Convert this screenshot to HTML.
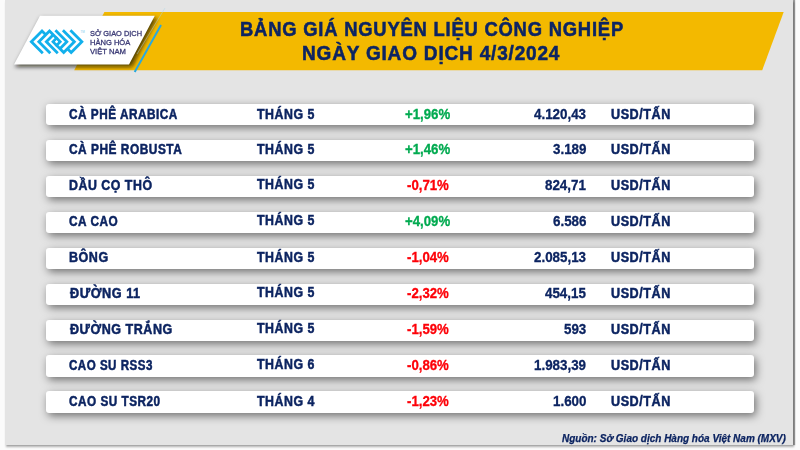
<!DOCTYPE html>
<html><head><meta charset="utf-8">
<style>
html,body{margin:0;padding:0;}
body{width:800px;height:450px;position:relative;overflow:hidden;background:#fbfbfb;font-family:"Liberation Sans",sans-serif;}
#bg{position:absolute;left:5px;top:0;width:788px;height:445px;background:#e4e4e4;box-shadow:2px 0 1px rgba(0,0,0,0.38),1px 2px 2px rgba(0,0,0,0.3);overflow:hidden;}
.t{position:absolute;white-space:nowrap;line-height:1;font-weight:bold;transform-origin:0 0;}
.row{position:absolute;left:46px;width:708px;height:21px;background:#fff;border-radius:3px;box-shadow:2px 3px 8px rgba(0,0,0,0.5);}
.nm{color:#0d2461;font-size:13.5px;}
.mo{color:#0d2461;font-size:13.5px;}
.pc{font-size:13px;}
.g{color:#12a54e;}
.r{color:#ea1c24;}
.pr{color:#0d2461;font-size:13.5px;}
.un{color:#0d2461;font-size:13.5px;}
#title{color:#13265c;font-size:19px;}
#yellow{position:absolute;left:0;top:0;}
#foot{color:#0d2461;font-size:10px;font-style:italic;}
.lg{color:#3d3b78;font-size:7.5px;font-weight:normal;}
</style></head>
<body>
<div id="bg"></div>
<svg width="800" height="450" style="position:absolute;left:0;top:0">
  <defs>
    <filter id="sh" x="-20%" y="-20%" width="140%" height="160%">
      <feGaussianBlur stdDeviation="2.3"/>
    </filter>
  </defs>
  <!-- yellow band -->
  <polygon points="104.4,12 783.7,12 762.2,70.3 74.2,70.3" fill="#f3b900"/>
  <!-- shadow of white box -->
  <polygon points="41,18 157,18 132,67 15,67" fill="rgba(20,10,0,0.7)" filter="url(#sh)"/>
  <!-- blue lines -->
  <line x1="165" y1="8" x2="137" y2="54" stroke="#a9d5ea" stroke-width="0.6" opacity="0.75"/>
  <line x1="161" y1="25" x2="134.7" y2="72" stroke="#29a8df" stroke-width="2"/>
  <!-- white box -->
  <polygon points="40,15.8 154.8,15.8 129,64.5 14,64.5" fill="#ffffff"/>
  <!-- logo icon -->
  <g fill="none" stroke="#12b0ec" stroke-width="2.8" stroke-linecap="butt" stroke-linejoin="miter">
    <polyline points="45.75,34.85 42,31.1 31.35,41.75 42.8,53.2"/>
    <polyline points="50.3,53.2 38.85,41.75 49.5,31.1 60.15,41.75 55.65,46.25"/>
    <polyline points="53.25,34.85 46.35,41.75 57.8,53.2"/>
    <polyline points="67.45,48.65 71.2,52.4 81.85,41.75 70.4,30.3"/>
    <polyline points="62.9,30.3 74.35,41.75 63.7,52.4 53.05,41.75 57.55,37.25"/>
    <polyline points="59.95,48.65 66.85,41.75 55.4,30.3"/>
  </g>
  <rect x="55.6" y="40.75" width="2" height="2" fill="#ffffff" transform="rotate(45 56.6 41.75)"/>
  <text x="80.5" y="33" font-family="Liberation Sans" font-size="3" fill="#7fcdee">TM</text>
  </svg>
<div class="row" style="top:104px;height:21px"></div>
<div class="row" style="top:140px;height:21px"></div>
<div class="row" style="top:176px;height:21px"></div>
<div class="row" style="top:212px;height:21px"></div>
<div class="row" style="top:248px;height:21px"></div>
<div class="row" style="top:284px;height:21px"></div>
<div class="row" style="top:320px;height:21px"></div>
<div class="row" style="top:355px;height:22px"></div>
<div class="row" style="top:391px;height:22px"></div>
<div class="t" style="left:89.85px;top:30px;font-size:8px;color:#3a3975;font-weight:normal;-webkit-text-stroke:0.3px currentColor;transform:scaleX(0.9263)">SỞ GIAO DỊCH</div>
<div class="t" style="left:90.19px;top:39px;font-size:8px;color:#3a3975;font-weight:normal;-webkit-text-stroke:0.3px currentColor;transform:scaleX(0.9430)">HÀNG HÓA</div>
<div class="t" style="left:90.27px;top:48px;font-size:8px;color:#3a3975;font-weight:normal;-webkit-text-stroke:0.3px currentColor;transform:scaleX(0.9562)">VIỆT NAM</div>
<div class="t" style="left:239.72px;top:18px;font-size:21px;color:#0c2463;-webkit-text-stroke:0.55px currentColor;letter-spacing:0.9px;transform:scaleX(0.8759)">BẢNG GIÁ NGUYÊN LIỆU CÔNG NGHIỆP</div>
<div class="t" style="left:302.23px;top:42px;font-size:21px;color:#0c2463;-webkit-text-stroke:0.55px currentColor;letter-spacing:0.9px;transform:scaleX(0.9051)">NGÀY GIAO DỊCH 4/3/2024</div>
<div class="t" style="left:69.40px;top:107px;font-size:14px;color:#0c2461;-webkit-text-stroke:0.5px currentColor;letter-spacing:0.6px;transform:scaleX(0.8417)">CÀ PHÊ ARABICA</div>
<div class="t" style="left:69.40px;top:142px;font-size:14px;color:#0c2461;-webkit-text-stroke:0.5px currentColor;letter-spacing:0.6px;transform:scaleX(0.8500)">CÀ PHÊ ROBUSTA</div>
<div class="t" style="left:69.36px;top:178px;font-size:14px;color:#0c2461;-webkit-text-stroke:0.5px currentColor;letter-spacing:0.6px;transform:scaleX(0.8824)">DẦU CỌ THÔ</div>
<div class="t" style="left:69.42px;top:214px;font-size:14px;color:#0c2461;-webkit-text-stroke:0.5px currentColor;letter-spacing:0.6px;transform:scaleX(0.8426)">CA CAO</div>
<div class="t" style="left:69.35px;top:250px;font-size:14px;color:#0c2461;-webkit-text-stroke:0.5px currentColor;letter-spacing:0.6px;transform:scaleX(0.8952)">BÔNG</div>
<div class="t" style="left:69.54px;top:286px;font-size:14px;color:#0c2461;-webkit-text-stroke:0.5px currentColor;letter-spacing:0.6px;transform:scaleX(0.9034)">ĐƯỜNG 11</div>
<div class="t" style="left:69.53px;top:322px;font-size:14px;color:#0c2461;-webkit-text-stroke:0.5px currentColor;letter-spacing:0.6px;transform:scaleX(0.8945)">ĐƯỜNG TRẮNG</div>
<div class="t" style="left:69.40px;top:358px;font-size:14px;color:#0c2461;-webkit-text-stroke:0.5px currentColor;letter-spacing:0.6px;transform:scaleX(0.8258)">CAO SU RSS3</div>
<div class="t" style="left:69.40px;top:394px;font-size:14px;color:#0c2461;-webkit-text-stroke:0.5px currentColor;letter-spacing:0.6px;transform:scaleX(0.8400)">CAO SU TSR20</div>
<div class="t" style="left:257.06px;top:107px;font-size:14px;color:#0c2461;-webkit-text-stroke:0.5px currentColor;letter-spacing:0.6px;transform:scaleX(0.8829)">THÁNG 5</div>
<div class="t" style="left:257.06px;top:142px;font-size:14px;color:#0c2461;-webkit-text-stroke:0.5px currentColor;letter-spacing:0.6px;transform:scaleX(0.8829)">THÁNG 5</div>
<div class="t" style="left:257.06px;top:177px;font-size:14px;color:#0c2461;-webkit-text-stroke:0.5px currentColor;letter-spacing:0.6px;transform:scaleX(0.8829)">THÁNG 5</div>
<div class="t" style="left:257.06px;top:213px;font-size:14px;color:#0c2461;-webkit-text-stroke:0.5px currentColor;letter-spacing:0.6px;transform:scaleX(0.8829)">THÁNG 5</div>
<div class="t" style="left:257.06px;top:250px;font-size:14px;color:#0c2461;-webkit-text-stroke:0.5px currentColor;letter-spacing:0.6px;transform:scaleX(0.8829)">THÁNG 5</div>
<div class="t" style="left:257.06px;top:285px;font-size:14px;color:#0c2461;-webkit-text-stroke:0.5px currentColor;letter-spacing:0.6px;transform:scaleX(0.8829)">THÁNG 5</div>
<div class="t" style="left:257.06px;top:321px;font-size:14px;color:#0c2461;-webkit-text-stroke:0.5px currentColor;letter-spacing:0.6px;transform:scaleX(0.8829)">THÁNG 5</div>
<div class="t" style="left:257.06px;top:357px;font-size:14px;color:#0c2461;-webkit-text-stroke:0.5px currentColor;letter-spacing:0.6px;transform:scaleX(0.8829)">THÁNG 6</div>
<div class="t" style="left:257.07px;top:394px;font-size:14px;color:#0c2461;-webkit-text-stroke:0.5px currentColor;letter-spacing:0.6px;transform:scaleX(0.8829)">THÁNG 4</div>
<div class="t" style="left:404.97px;top:107px;font-size:14px;color:#00aa50;-webkit-text-stroke:0.3px currentColor;transform:scaleX(0.9437)">+1,96%</div>
<div class="t" style="left:404.98px;top:142px;font-size:14px;color:#00aa50;-webkit-text-stroke:0.3px currentColor;transform:scaleX(0.9437)">+1,46%</div>
<div class="t" style="left:406.89px;top:178px;font-size:14px;color:#fd0008;-webkit-text-stroke:0.3px currentColor;transform:scaleX(0.9437)">-0,71%</div>
<div class="t" style="left:404.97px;top:214px;font-size:14px;color:#00aa50;-webkit-text-stroke:0.3px currentColor;transform:scaleX(0.9437)">+4,09%</div>
<div class="t" style="left:406.89px;top:250px;font-size:14px;color:#fd0008;-webkit-text-stroke:0.3px currentColor;transform:scaleX(0.9437)">-1,04%</div>
<div class="t" style="left:406.88px;top:286px;font-size:14px;color:#fd0008;-webkit-text-stroke:0.3px currentColor;transform:scaleX(0.9437)">-2,32%</div>
<div class="t" style="left:406.88px;top:322px;font-size:14px;color:#fd0008;-webkit-text-stroke:0.3px currentColor;transform:scaleX(0.9437)">-1,59%</div>
<div class="t" style="left:406.87px;top:358px;font-size:14px;color:#fd0008;-webkit-text-stroke:0.3px currentColor;transform:scaleX(0.9437)">-0,86%</div>
<div class="t" style="left:406.88px;top:394px;font-size:14px;color:#fd0008;-webkit-text-stroke:0.3px currentColor;transform:scaleX(0.9437)">-1,23%</div>
<div class="t" style="left:533.85px;top:107px;font-size:14px;color:#0c2461;-webkit-text-stroke:0.3px currentColor;transform:scaleX(0.9551)">4.120,43</div>
<div class="t" style="left:552.54px;top:142px;font-size:14px;color:#0c2461;-webkit-text-stroke:0.3px currentColor;transform:scaleX(0.9551)">3.189</div>
<div class="t" style="left:544.94px;top:178px;font-size:14px;color:#0c2461;-webkit-text-stroke:0.3px currentColor;transform:scaleX(0.9551)">824,71</div>
<div class="t" style="left:552.58px;top:214px;font-size:14px;color:#0c2461;-webkit-text-stroke:0.3px currentColor;transform:scaleX(0.9551)">6.586</div>
<div class="t" style="left:534.10px;top:250px;font-size:14px;color:#0c2461;-webkit-text-stroke:0.3px currentColor;transform:scaleX(0.9551)">2.085,13</div>
<div class="t" style="left:544.84px;top:286px;font-size:14px;color:#0c2461;-webkit-text-stroke:0.3px currentColor;transform:scaleX(0.9551)">454,15</div>
<div class="t" style="left:563.72px;top:322px;font-size:14px;color:#0c2461;-webkit-text-stroke:0.3px currentColor;transform:scaleX(0.9551)">593</div>
<div class="t" style="left:533.62px;top:358px;font-size:14px;color:#0c2461;-webkit-text-stroke:0.3px currentColor;transform:scaleX(0.9551)">1.983,39</div>
<div class="t" style="left:552.53px;top:394px;font-size:14px;color:#0c2461;-webkit-text-stroke:0.3px currentColor;transform:scaleX(0.9551)">1.600</div>
<div class="t" style="left:610.85px;top:107px;font-size:14px;color:#0c2461;-webkit-text-stroke:0.5px currentColor;letter-spacing:0.6px;transform:scaleX(0.9014)">USD/TẤN</div>
<div class="t" style="left:610.85px;top:142px;font-size:14px;color:#0c2461;-webkit-text-stroke:0.5px currentColor;letter-spacing:0.6px;transform:scaleX(0.9014)">USD/TẤN</div>
<div class="t" style="left:610.85px;top:178px;font-size:14px;color:#0c2461;-webkit-text-stroke:0.5px currentColor;letter-spacing:0.6px;transform:scaleX(0.9014)">USD/TẤN</div>
<div class="t" style="left:610.85px;top:214px;font-size:14px;color:#0c2461;-webkit-text-stroke:0.5px currentColor;letter-spacing:0.6px;transform:scaleX(0.9014)">USD/TẤN</div>
<div class="t" style="left:610.85px;top:250px;font-size:14px;color:#0c2461;-webkit-text-stroke:0.5px currentColor;letter-spacing:0.6px;transform:scaleX(0.9014)">USD/TẤN</div>
<div class="t" style="left:610.85px;top:286px;font-size:14px;color:#0c2461;-webkit-text-stroke:0.5px currentColor;letter-spacing:0.6px;transform:scaleX(0.9014)">USD/TẤN</div>
<div class="t" style="left:610.85px;top:322px;font-size:14px;color:#0c2461;-webkit-text-stroke:0.5px currentColor;letter-spacing:0.6px;transform:scaleX(0.9014)">USD/TẤN</div>
<div class="t" style="left:610.85px;top:358px;font-size:14px;color:#0c2461;-webkit-text-stroke:0.5px currentColor;letter-spacing:0.6px;transform:scaleX(0.9014)">USD/TẤN</div>
<div class="t" style="left:610.85px;top:394px;font-size:14px;color:#0c2461;-webkit-text-stroke:0.5px currentColor;letter-spacing:0.6px;transform:scaleX(0.9014)">USD/TẤN</div>
<div class="t" style="left:562.24px;top:434px;font-size:10px;color:#0c2461;font-style:italic;-webkit-text-stroke:0.25px currentColor;transform:scaleX(0.9987)">Nguồn: Sở Giao dịch Hàng hóa Việt Nam (MXV)</div>
</body></html>
